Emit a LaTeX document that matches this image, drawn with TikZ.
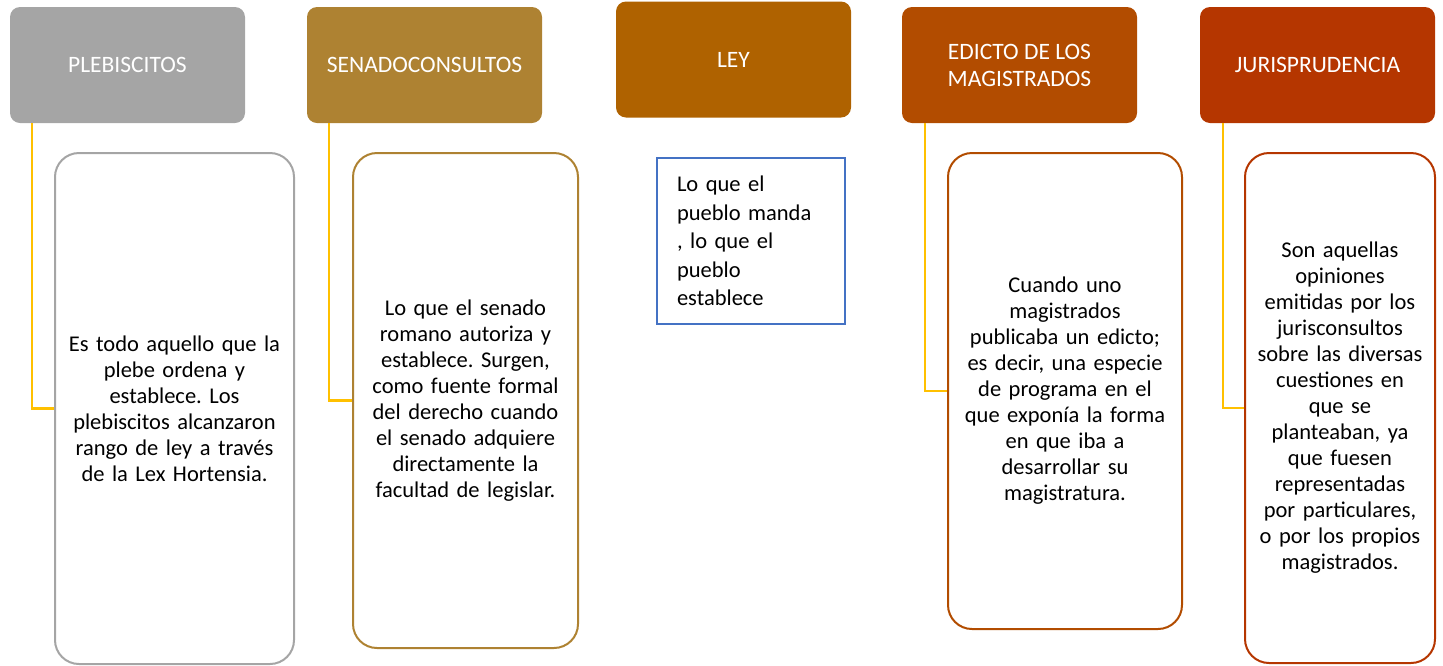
\documentclass[tikz,border=0pt]{standalone}
\usepackage{fontspec}
\setmainfont{Carlito}
\frenchspacing
\definecolor{cgray}{HTML}{A5A5A5}
\definecolor{cgold}{HTML}{AE8232}
\definecolor{cochre}{HTML}{AF6200}
\definecolor{crust}{HTML}{B24C00}
\definecolor{cred}{HTML}{B53600}
\definecolor{cyel}{HTML}{FFC000}
\definecolor{cblue}{HTML}{4472C4}
\tikzset{
  head/.style={fill=#1, draw=none, rounded corners=10pt, minimum width=235pt, minimum height=116pt,
    text=white, align=center, inner sep=0pt, font=\fontsize{23.5}{27}\selectfont},
  body/.style={draw=#1, line width=2pt, rounded corners=24pt, inner sep=0pt, align=center,
    font=\fontsize{22.5}{26}\selectfont},
  conn/.style={draw=cyel, line width=2.2pt},
}
\begin{document}
\begin{tikzpicture}[x=1pt,y=-1pt]
\useasboundingbox (0,0) rectangle (1443,665);
% headers
\node[head=cgray] (h1) at (127.5,65) {PLEBISCITOS};
\node[head=cgold] (h2) at (424.5,65) {SENADOCONSULTOS};
\node[head=cochre] (h3) at (733.5,59.5) {LEY};
\node[head=crust] (h4) at (1019.5,65) {EDICTO DE LOS\\MAGISTRADOS};
\node[head=cred] (h5) at (1317.5,65) {JURISPRUDENCIA};
% bodies
\node[body=cgray, minimum width=239pt, minimum height=511pt, text width=235pt] (b1) at (174.5,408.5)
  {Es todo aquello que la\\plebe ordena y\\establece. Los\\plebiscitos alcanzaron\\rango de ley a través\\de la Lex Hortensia.};
\node[body=cgold, minimum width=225pt, minimum height=495pt, text width=221pt] (b2) at (465.5,400.5)
  {Lo que el senado\\romano autoriza y\\establece. Surgen,\\como fuente formal\\del derecho cuando\\el senado adquiere\\directamente la\\facultad de legislar.};
\node[draw=cblue, line width=2.2pt, minimum width=188pt, minimum height=166pt, inner sep=0pt,
  text width=148pt, align=left, font=\fontsize{22.5}{28.5}\selectfont] (b3) at (751,241)
  {Lo que el\\pueblo manda\\, lo que el\\pueblo\\establece};
\node[body=crust, minimum width=234pt, minimum height=476pt, text width=230pt] (b4) at (1065,391)
  {Cuando uno\\magistrados\\publicaba un edicto;\\es decir, una especie\\de programa en el\\que exponía la forma\\en que iba a\\desarrollar su\\magistratura.};
\node[body=cred, minimum width=190pt, minimum height=510pt, text width=186pt] (b5) at (1340,408)
  {Son aquellas\\opiniones\\emitidas por los\\jurisconsultos\\sobre las diversas\\cuestiones en\\que se\\planteaban, ya\\que fuesen\\representadas\\por particulares,\\o por los propios\\magistrados.};
% connectors
\draw[conn] ([xshift=22.5pt]h1.south west) |- (b1.west);
\draw[conn] ([xshift=22.5pt]h2.south west) |- (b2.west);
\draw[conn] ([xshift=23pt]h4.south west) |- (b4.west);
\draw[conn] ([xshift=23pt]h5.south west) |- (b5.west);
\end{tikzpicture}
\end{document}
